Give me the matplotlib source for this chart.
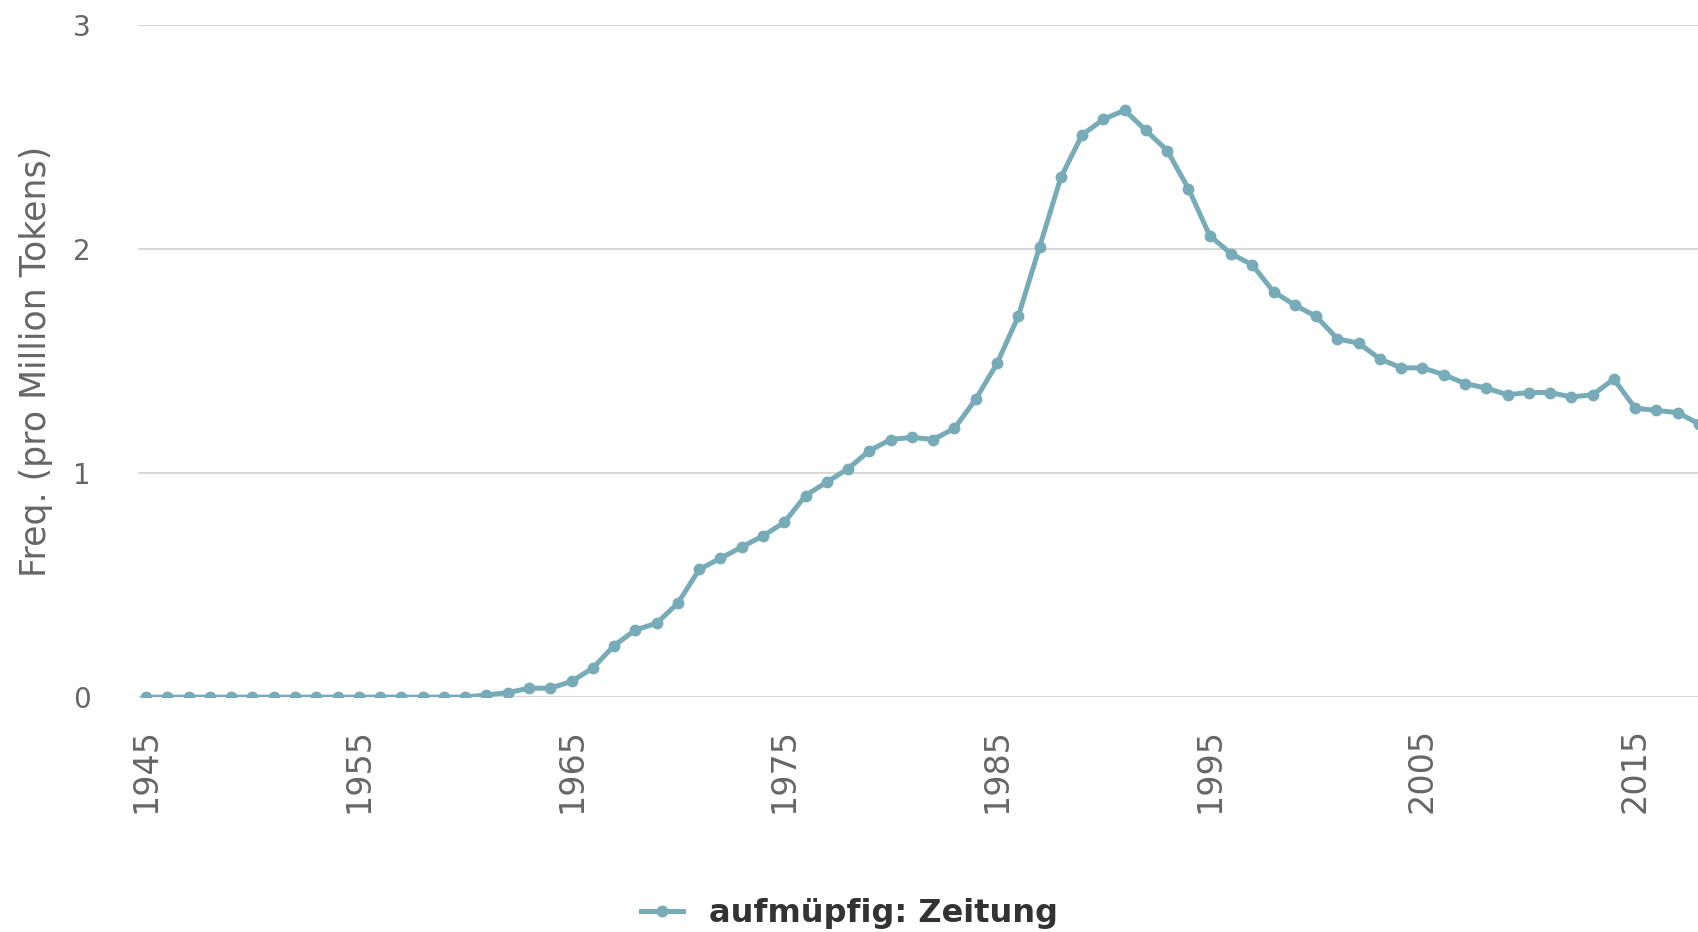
import matplotlib.pyplot as plt

# Jahre und Frequenzen (pro Million Tokens)
jahre = list(range(1945, 2019))
freq = [0, 0, 0, 0, 0, 0, 0, 0, 0, 0,
        0, 0, 0, 0, 0, 0, 0.01, 0.02, 0.04, 0.04,
        0.07, 0.13, 0.23, 0.30, 0.33, 0.42, 0.57, 0.62, 0.67, 0.72,
        0.78, 0.90, 0.96, 1.02, 1.10, 1.15, 1.16, 1.15, 1.20, 1.33,
        1.49, 1.70, 2.01, 2.32, 2.51, 2.58, 2.62, 2.53, 2.44, 2.27,
        2.06, 1.98, 1.93, 1.81, 1.75, 1.70, 1.60, 1.58, 1.51, 1.47,
        1.47, 1.44, 1.40, 1.38, 1.35, 1.36, 1.36, 1.34, 1.35, 1.42,
        1.29, 1.28, 1.27, 1.22]
xticks = [1945, 1955, 1965, 1975, 1985, 1995, 2005, 2015]
yticks = [0, 1, 2, 3]
serie = "aufmüpfig: Zeitung"

farbe = "#77abb8"

fig = plt.figure(figsize=(16.99, 9.32), dpi=100)
ax = fig.add_axes([0.081, 0.252, 0.919, 0.721])

ax.plot(jahre, freq, color=farbe, linewidth=3.6, marker="o", markersize=7.5,
        label=serie, clip_on=True, zorder=3)

ax.set_xlim(1944.6, 2018)
ax.set_ylim(0, 3)
ax.set_yticks(yticks)
ax.set_xticks(xticks)
ax.set_xticklabels([str(j) for j in xticks], rotation=90)

for s in ax.spines.values():
    s.set_visible(False)
ax.grid(axis="y", color="#d8d8d8", linewidth=1.5)
ax.axhline(0, color="#ccd6eb", linewidth=1.8, zorder=1)

ax.tick_params(axis="both", length=0, colors="#666666")
ax.tick_params(axis="y", labelsize=20, pad=34)
ax.tick_params(axis="x", labelsize=24, pad=22)
ax.set_ylabel("Freq. (pro Million Tokens)", fontsize=25, color="#666666", labelpad=14)

leg = fig.legend(loc="lower center", bbox_to_anchor=(0.5, -0.028), frameon=False,
                 prop={"size": 23, "weight": "bold"}, handlelength=1.3)
for t in leg.get_texts():
    t.set_color("#333333")

fig.savefig("out.png", dpi=100)
